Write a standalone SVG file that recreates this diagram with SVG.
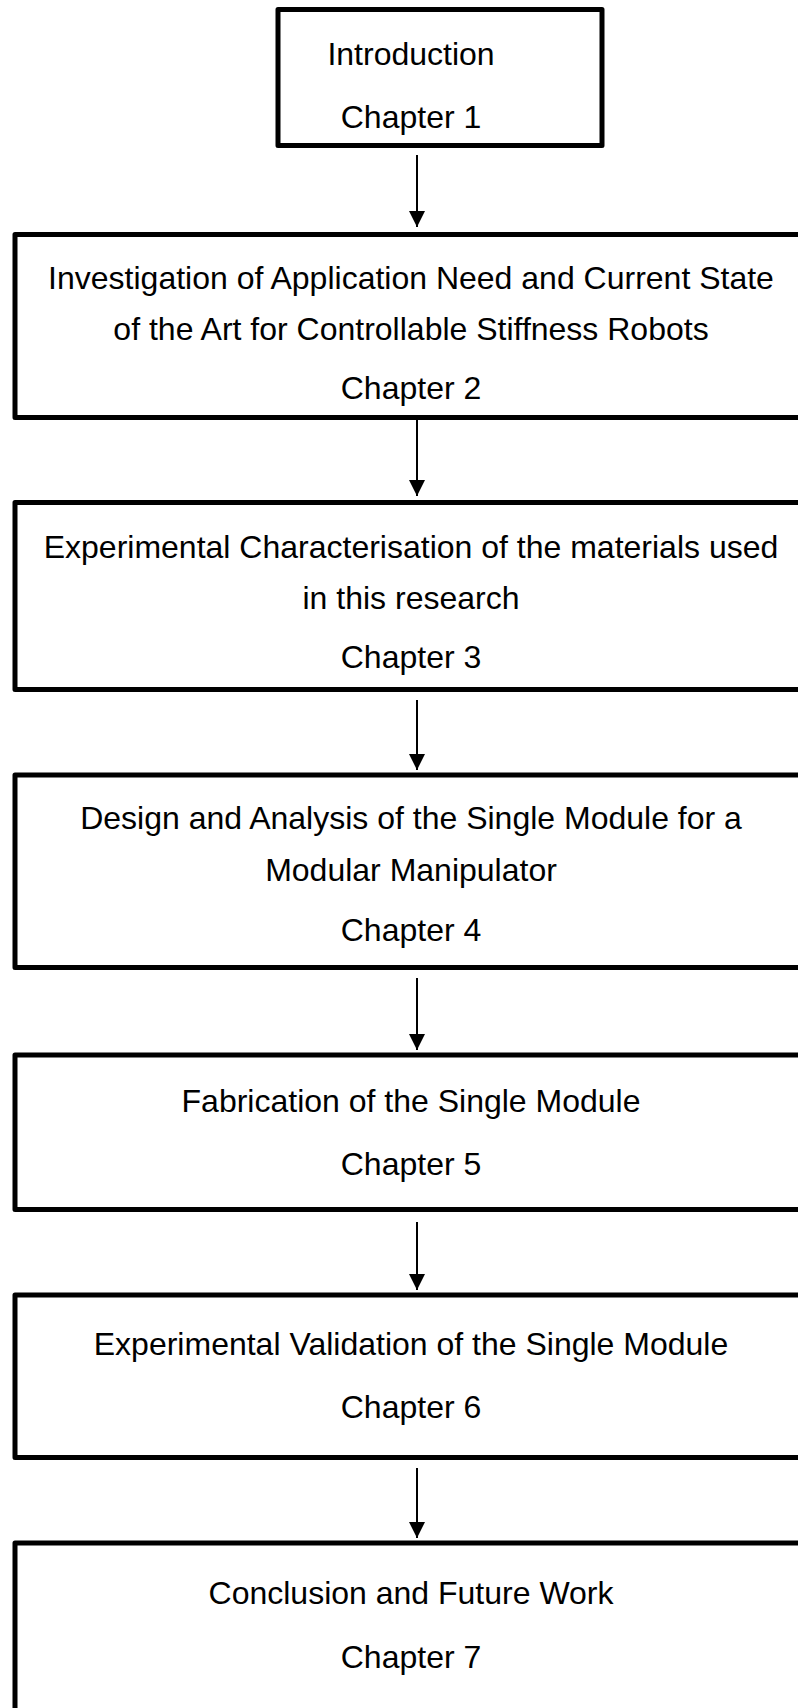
<svg xmlns="http://www.w3.org/2000/svg" width="798" height="1708" viewBox="0 0 798 1708">
<defs>
<style>
.box{fill:#ffffff;stroke:#000000;stroke-width:5;stroke-linejoin:round}
.t{font-family:"Liberation Sans",Arial,sans-serif;font-size:32px;fill:#000000;text-anchor:middle}
.c{stroke:#000000;stroke-width:2;fill:none}
</style>
<marker id="ah" markerUnits="userSpaceOnUse" markerWidth="16" markerHeight="16" viewBox="0 0 16 16" refX="16" refY="8" orient="auto">
<path d="M0,0 L16,8 L0,16 Z" fill="#000000"/>
</marker>
</defs>
<rect width="798" height="1708" fill="#ffffff"/>
<g id="node1">
<rect class="box" x="278" y="9.5" width="324" height="136"/>
<text class="t" x="411" y="65">Introduction</text>
<text class="t" x="411" y="128">Chapter 1</text>
</g>
<g id="node2">
<rect class="box" x="15" y="234.5" width="792" height="183"/>
<text class="t" x="411" y="289">Investigation of Application Need and Current State</text>
<text class="t" x="411" y="340">of the Art for Controllable Stiffness Robots</text>
<text class="t" x="411" y="399">Chapter 2</text>
</g>
<g id="node3">
<rect class="box" x="15" y="502.5" width="792" height="187"/>
<text class="t" x="411" y="558">Experimental Characterisation of the materials used</text>
<text class="t" x="411" y="609">in this research</text>
<text class="t" x="411" y="668">Chapter 3</text>
</g>
<g id="node4">
<rect class="box" x="15" y="775" width="792" height="192.5"/>
<text class="t" x="411" y="829">Design and Analysis of the Single Module for a</text>
<text class="t" x="411" y="881">Modular Manipulator</text>
<text class="t" x="411" y="941">Chapter 4</text>
</g>
<g id="node5">
<rect class="box" x="15" y="1055" width="792" height="154.5"/>
<text class="t" x="411" y="1112">Fabrication of the Single Module</text>
<text class="t" x="411" y="1175">Chapter 5</text>
</g>
<g id="node6">
<rect class="box" x="15" y="1295" width="792" height="162.5"/>
<text class="t" x="411" y="1355">Experimental Validation of the Single Module</text>
<text class="t" x="411" y="1418">Chapter 6</text>
</g>
<g id="node7">
<rect class="box" x="15" y="1543" width="792" height="180"/>
<text class="t" x="411" y="1604">Conclusion and Future Work</text>
<text class="t" x="411" y="1668">Chapter 7</text>
</g>
<g id="connectors">
<line class="c" x1="417" y1="155" x2="417" y2="227" marker-end="url(#ah)"/>
<line class="c" x1="417" y1="420" x2="417" y2="496" marker-end="url(#ah)"/>
<line class="c" x1="417" y1="700" x2="417" y2="770" marker-end="url(#ah)"/>
<line class="c" x1="417" y1="978" x2="417" y2="1050" marker-end="url(#ah)"/>
<line class="c" x1="417" y1="1222" x2="417" y2="1290" marker-end="url(#ah)"/>
<line class="c" x1="417" y1="1468" x2="417" y2="1538" marker-end="url(#ah)"/>
</g>
</svg>
